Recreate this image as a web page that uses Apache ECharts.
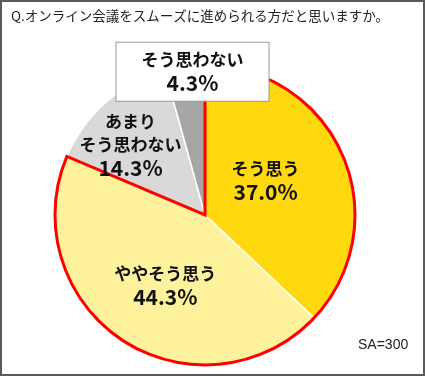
<!DOCTYPE html>
<html><head><meta charset="utf-8">
<script src="https://cdn.jsdelivr.net/npm/echarts@6/dist/echarts.min.js"></script>
<style>html,body{margin:0;padding:0;background:#fff}#c{width:425px;height:376px}</style>
</head><body><div id="c"></div>
<script>
const title = 'Q.オンライン会議をスムーズに進められる方だと思いますか。';
const categories = ['そう思う', 'ややそう思う', 'あまり\nそう思わない', 'そう思わない'];
const values = [37.0, 44.3, 14.3, 4.3];
const colors = ['#FFD80F', '#FFF29C', '#D9D9D9', '#A6A6A6'];
const note = 'SA=300';
// positive group outlined in red: first two categories
const outlineGroup = [values[0] + values[1], values[2] + values[3]];

const labelOffsets = [[-11, -4], [3, 5], [-23, -11], [-2, -66]];
const font = '"Noto Sans CJK JP", "Noto Sans", sans-serif';
const base = { type: 'pie', center: [205, 215], radius: [0, 150], startAngle: 90, clockwise: true, emphasis: { disabled: true }, labelLine: { show: false } };
const chart = echarts.init(document.getElementById('c'));
chart.setOption({
  animation: false,
  title: { text: title, left: 11, top: 9, padding: 0,
    textStyle: { fontSize: 13.5, fontWeight: 'normal', color: '#222', fontFamily: font } },
  graphic: [
    { type: 'rect', shape: { x: 1, y: 1, width: 423, height: 374 }, style: { fill: 'none', stroke: '#5a5a5a', lineWidth: 2 }, z: 100 },
    { type: 'text', left: 358, top: 338, style: { text: note, fontSize: 14, fill: '#222', fontFamily: '"Liberation Sans", Arial, sans-serif' } }
  ],
  series: [
    Object.assign({}, base, {
      z: 2,
      data: categories.map((n, i) => ({ name: n, value: values[i], itemStyle: { color: colors[i] } })),
      itemStyle: { borderColor: '#fff', borderWidth: 1.5 },
      label: { show: false }
    }),
    Object.assign({}, base, {
      z: 3, silent: true,
      data: [
        { value: outlineGroup[0], itemStyle: { color: 'rgba(0,0,0,0)', borderColor: '#FF0000', borderWidth: 3, borderJoin: 'miter' } },
        { value: outlineGroup[1], itemStyle: { color: 'rgba(0,0,0,0)', borderWidth: 0 } }
      ],
      label: { show: false }
    }),
    Object.assign({}, base, {
      z: 4, silent: true,
      data: categories.map((n, i) => ({
        name: n, value: values[i],
        label: i === 3 ? { backgroundColor: '#fff', borderColor: '#999', borderWidth: 1, padding: [5, 25, 6, 25] } : {}
      })),
      itemStyle: { color: 'rgba(0,0,0,0)', borderWidth: 0 },
      label: {
        show: true, position: 'inside', color: '#111',
        formatter: p => '{a|' + p.name + '}\n{p|' + p.value.toFixed(1) + '%}',
        rich: {
          a: { fontSize: 17, fontWeight: 'bold', lineHeight: 23, fontFamily: font, color: '#111', align: 'center' },
          p: { fontSize: 21, fontWeight: 'bold', lineHeight: 24, fontFamily: font, color: '#111', align: 'center' }
        }
      },
      labelLayout: p => ({ dx: labelOffsets[p.dataIndex][0], dy: labelOffsets[p.dataIndex][1] })
    })
  ]
});
</script></body></html>
